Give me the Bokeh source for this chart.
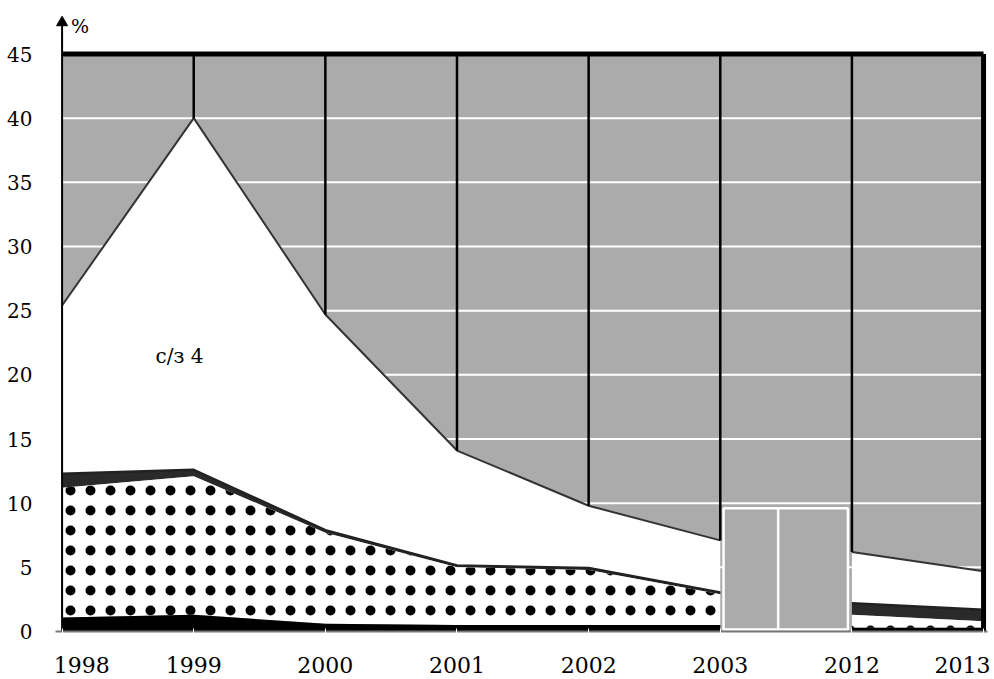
import numpy as np
from bokeh.plotting import figure
from bokeh.models import Range1d, FixedTicker
from bokeh.embed import file_html
from bokeh.resources import INLINE
from bokeh.core.properties import value

# ---------------- data ----------------
years = ["1998", "1999", "2000", "2001", "2002", "2003", "2012", "2013"]
black_base = [1.1, 1.3, 0.6, 0.5, 0.5, 0.5, 0.3, 0.3]
checker = [10.1, 10.8, 7.1, 4.5, 4.3, 2.4, 1.0, 0.5]
dark_band = [1.1, 0.5, 0.2, 0.15, 0.15, 0.15, 0.9, 0.9]
white_cz4 = [13.1, 27.4, 16.8, 8.95, 4.85, 4.05, 4.0, 3.0]
y_max = 45
gap_box_top = 9.6
area_label = "с/з 4"
area_label_pos = (0.71, 21.5)
y_ticks = [0, 5, 10, 15, 20, 25, 30, 35, 40, 45]
unit_label = "%"

# ---------------- derived ----------------
xpos = np.arange(len(years), dtype=float)
c1 = np.array(black_base)
c2 = c1 + np.array(checker)
c3 = c2 + np.array(dark_band)
c4 = c3 + np.array(white_cz4)
segments = [slice(0, 6), slice(6, 8)]
x_first, x_last = float(xpos[0]), float(xpos[-1])
arrow_top = y_max + 3.0

FONT = "DejaVu Serif"
GRAY = "#ababab"

p = figure(width=994, height=679, output_backend="svg", toolbar_location=None,
           x_range=Range1d(x_first - 0.05, x_last + 0.03),
           y_range=Range1d(0, arrow_top),
           min_border_left=55, min_border_right=7, min_border_top=15, min_border_bottom=48)
p.background_fill_color = "white"
p.border_fill_color = "white"
p.outline_line_color = None
p.xgrid.grid_line_color = None
p.ygrid.grid_line_color = None

# gray field and white grid lines
p.quad(left=[x_first], right=[x_last], bottom=[0], top=[y_max],
       fill_color=GRAY, line_color=None)
gy = np.array([t for t in y_ticks if 0 < t < y_max], dtype=float)
p.segment(x0=np.full(len(gy), x_first), y0=gy, x1=np.full(len(gy), x_last), y1=gy,
          line_color="white", line_width=2)

for s in segments:
    xs = xpos[s]
    p.varea(x=xs, y1=c3[s], y2=c4[s], fill_color="white")
    p.varea(x=xs, y1=c2[s], y2=c3[s], fill_color="#2a2a2a")
    p.varea(x=xs, y1=c1[s], y2=c2[s], fill_color="white",
            hatch_pattern="dot", hatch_color="black", hatch_scale=20, hatch_weight=7)
    p.varea(x=xs, y1=np.zeros(len(xs)), y2=c1[s], fill_color="black")
    p.line(xs, c4[s], line_color="#333333", line_width=2)
    p.line(xs, c3[s], line_color="#222222", line_width=2.5)

# vertical year lines above the white area
vi = np.arange(1, 7)
p.segment(x0=xpos[vi], y0=c4[vi], x1=xpos[vi], y1=np.full(len(vi), y_max),
          line_color="black", line_width=2.5)

# gap box between 2003 and 2012
g0 = xpos[5]
g1 = xpos[6]
mid = g0 + 0.44 * (g1 - g0)
p.quad(left=[g0 + 0.025, mid], right=[mid, g1 - 0.03], bottom=[0.15, 0.15],
       top=[gap_box_top, gap_box_top], fill_color=GRAY, line_color="white", line_width=2.5)

# borders: top and right thick, left = y axis with arrow
p.segment(x0=[x_first], y0=[y_max], x1=[x_last], y1=[y_max], line_color="black", line_width=5)
p.segment(x0=[x_last], y0=[0], x1=[x_last], y1=[y_max], line_color="black", line_width=5)
p.segment(x0=[x_first], y0=[0], x1=[x_first], y1=[arrow_top - 0.6], line_color="black", line_width=2)
p.scatter(x=[x_first], y=[arrow_top - 0.55], marker="triangle", size=11,
          fill_color="black", line_color="black")
p.text(x=[x_first], y=[arrow_top - 0.85], text=[unit_label], x_offset=9,
       text_font=value(FONT), text_font_size="19px", text_baseline="middle", text_color="black")

# label inside the white area
p.text(x=[area_label_pos[0]], y=[area_label_pos[1]], text=[area_label],
       text_font=value(FONT), text_font_size="20px", text_baseline="middle",
       text_color="black")

# y axis
p.yaxis.ticker = FixedTicker(ticks=y_ticks)
p.yaxis.axis_line_color = None
p.yaxis.major_tick_line_color = None
p.yaxis.minor_tick_line_color = None
p.yaxis.major_label_standoff = 17
p.yaxis.major_label_text_font = FONT
p.yaxis.major_label_text_font_size = "20px"
p.yaxis.major_label_text_color = "black"

# x axis: labels nudged inward at the ends
offsets = np.zeros(len(years))
offsets[0] = 0.15
offsets[-1] = -0.16
label_pos = [float(v) for v in (xpos + offsets)]
p.xaxis.ticker = FixedTicker(ticks=label_pos, minor_ticks=[float(v) for v in xpos])
p.xaxis.major_label_overrides = {lp: y for lp, y in zip(label_pos, years)}
p.xaxis.axis_line_color = "#777777"
p.xaxis.axis_line_width = 2
p.xaxis.major_tick_line_color = None
p.xaxis.minor_tick_line_color = "white"
p.xaxis.minor_tick_in = 3
p.xaxis.minor_tick_out = 3
p.xaxis.major_label_standoff = 19
p.xaxis.major_label_text_font = FONT
p.xaxis.major_label_text_font_size = "22px"
p.xaxis.major_label_text_color = "black"

open("out.html", "w").write(file_html(p, INLINE))
